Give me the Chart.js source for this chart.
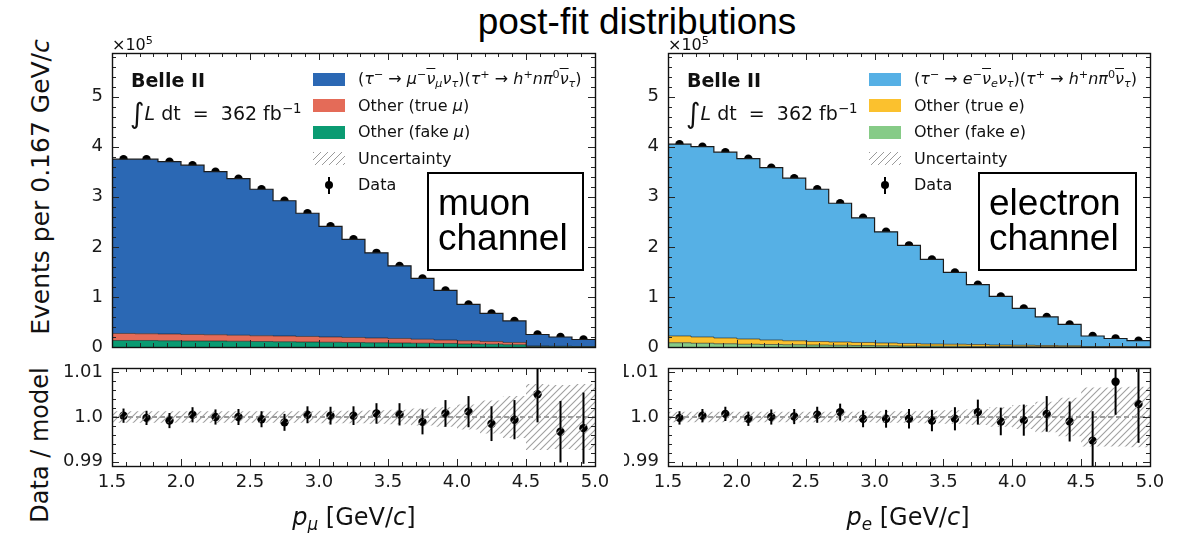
<!DOCTYPE html>
<html>
<head>
<meta charset="utf-8">
<script src="https://cdn.jsdelivr.net/npm/chart.js@4.4.0/dist/chart.umd.min.js"></script>
<style>
  html, body { margin: 0; padding: 0; background: #fff; }
  body { width: 1183px; height: 533px; position: relative; overflow: hidden;
         font-family: "DejaVu Sans", sans-serif; color: #111; }
  canvas { position: absolute; }
  .t { position: absolute; white-space: nowrap; line-height: 1; }
  .cc { transform: translate(-50%, -50%); }
  .cl { transform: translate(0, -50%); }
  .rot { transform: translate(-50%, -50%) rotate(-90deg); }
  sup { font-size: 0.7em; vertical-align: 0.5em; line-height: 0; }
  sub { font-size: 0.7em; vertical-align: -0.3em; line-height: 0; }
  .bar { text-decoration: overline; text-decoration-thickness: 1px; }
  .sw { position: absolute; width: 32px; height: 13px; }
  .hatch { background: repeating-linear-gradient(135deg, #9a9a9a 0 1.1px, transparent 1.1px 5px); }
  .box { position: absolute; box-sizing: border-box; border: 2px solid #000; background: #fff; }
  .box div { position: absolute; left: 9px; top: 11px; font-family: "Liberation Sans", Arial, sans-serif;
             font-size: 37px; line-height: 35px; color: #000; }
  .belle { font-weight: bold; font-size: 19px; }
  .lumi { font-size: 19px; }
  .lumi .int { font-size: 28px; vertical-align: -0.12em; line-height: 0; }
  .leg { font-size: 16px; }
  .axl { font-size: 24px; }
</style>
</head>
<body>

<div class="t cc" style="left:637px;top:21px;font-family:'Liberation Sans',Arial,sans-serif;font-size:37px;color:#000;">post-fit distributions</div>

<div class="t rot axl" style="left:40px;top:187px;font-size:25px;">Events per 0.167 GeV/<i>c</i></div>
<div class="t rot axl" style="left:40px;top:445px;">Data / model</div>

<canvas id="topL" width="612" height="330" style="left:0;top:30px;"></canvas>
<canvas id="ratL" width="612" height="173" style="left:0;top:360px;"></canvas>
<canvas id="topR" width="559" height="330" style="left:624px;top:30px;"></canvas>
<canvas id="ratR" width="559" height="173" style="left:624px;top:360px;"></canvas>

<!-- muon panel annotations -->
<div class="t cl" style="left:112px;top:45px;font-size:16px;">×10<sup>5</sup></div>
<div class="t cl belle" style="left:131px;top:80px;">Belle II</div>
<div class="t cl lumi" style="left:130px;top:113px;"><span class="int">∫</span><i>L</i> dt&nbsp; =&nbsp; 362 fb<sup>−1</sup></div>

<div class="sw" style="left:313px;top:73px;background:#2b68b4;"></div>
<div class="sw" style="left:313px;top:99px;background:#e46b58;"></div>
<div class="sw" style="left:313px;top:126px;background:#0a9b72;"></div>
<div class="sw hatch" style="left:313px;top:152px;"></div>
<div style="position:absolute;left:328px;top:177px;width:2px;height:17px;background:#000;"></div>
<div style="position:absolute;left:325px;top:181px;width:8px;height:8px;border-radius:50%;background:#000;"></div>
<div class="t cl leg" style="left:358px;top:79px;">(<i>τ</i><sup>−</sup> → <i>μ</i><sup>−</sup><i class="bar">ν</i><sub><i>μ</i></sub><i>ν</i><sub><i>τ</i></sub>)(<i>τ</i><sup>+</sup> → <i>h</i><sup>+</sup><i>nπ</i><sup>0</sup><i class="bar">ν</i><sub><i>τ</i></sub>)</div>
<div class="t cl leg" style="left:358px;top:106px;">Other (true <i>μ</i>)</div>
<div class="t cl leg" style="left:358px;top:132px;">Other (fake <i>μ</i>)</div>
<div class="t cl leg" style="left:358px;top:159px;">Uncertainty</div>
<div class="t cl leg" style="left:358px;top:185px;">Data</div>
<div class="box" style="left:427px;top:172px;width:157px;height:99px;"><div>muon<br>channel</div></div>

<!-- electron panel annotations -->
<div class="t cl" style="left:668px;top:45px;font-size:16px;">×10<sup>5</sup></div>
<div class="t cl belle" style="left:687px;top:80px;">Belle II</div>
<div class="t cl lumi" style="left:686px;top:113px;"><span class="int">∫</span><i>L</i> dt&nbsp; =&nbsp; 362 fb<sup>−1</sup></div>

<div class="sw" style="left:869px;top:73px;background:#56b0e5;"></div>
<div class="sw" style="left:869px;top:99px;background:#fbc12e;"></div>
<div class="sw" style="left:869px;top:126px;background:#86cb87;"></div>
<div class="sw hatch" style="left:869px;top:152px;"></div>
<div style="position:absolute;left:884px;top:177px;width:2px;height:17px;background:#000;"></div>
<div style="position:absolute;left:881px;top:181px;width:8px;height:8px;border-radius:50%;background:#000;"></div>
<div class="t cl leg" style="left:914px;top:79px;">(<i>τ</i><sup>−</sup> → <i>e</i><sup>−</sup><i class="bar">ν</i><sub><i>e</i></sub><i>ν</i><sub><i>τ</i></sub>)(<i>τ</i><sup>+</sup> → <i>h</i><sup>+</sup><i>nπ</i><sup>0</sup><i class="bar">ν</i><sub><i>τ</i></sub>)</div>
<div class="t cl leg" style="left:914px;top:106px;">Other (true <i>e</i>)</div>
<div class="t cl leg" style="left:914px;top:132px;">Other (fake <i>e</i>)</div>
<div class="t cl leg" style="left:914px;top:159px;">Uncertainty</div>
<div class="t cl leg" style="left:914px;top:185px;">Data</div>
<div class="box" style="left:978px;top:172px;width:159px;height:99px;"><div>electron<br>channel</div></div>

<div class="t cc axl" style="left:354px;top:517px;"><i>p</i><sub><i>μ</i></sub> [GeV/<i>c</i>]</div>
<div class="t cc axl" style="left:908px;top:517px;"><i>p</i><sub><i>e</i></sub> [GeV/<i>c</i>]</div>

<script>
// Bin edges of the lepton momentum histograms [GeV/c], width 0.167
const binEdges = [1.5, 1.667, 1.833, 2.0, 2.167, 2.333, 2.5, 2.667, 2.833, 3.0, 3.167,
                  3.333, 3.5, 3.667, 3.833, 4.0, 4.167, 4.333, 4.5, 4.667, 4.833, 5.0];

// Muon channel, events per bin in units of 1e5
const muData   = [3.75, 3.75, 3.70, 3.63, 3.50, 3.36, 3.15, 2.92, 2.67, 2.41, 2.15,
                  1.88, 1.62, 1.37, 1.13, 0.85, 0.67, 0.52, 0.25, 0.20, 0.15];
const muSignal = [3.48, 3.485, 3.44, 3.38, 3.255, 3.125, 2.925, 2.70, 2.46, 2.21, 1.96,
                  1.70, 1.45, 1.215, 0.99, 0.725, 0.56, 0.43, 0.23, 0.185, 0.14];
const muTrue   = [0.14, 0.135, 0.135, 0.13, 0.125, 0.12, 0.115, 0.115, 0.11, 0.105, 0.10,
                  0.095, 0.09, 0.08, 0.07, 0.065, 0.055, 0.045, 0.01, 0.007, 0.005];
const muFake   = [0.13, 0.13, 0.125, 0.12, 0.12, 0.115, 0.11, 0.105, 0.10, 0.095, 0.09,
                  0.085, 0.08, 0.075, 0.07, 0.06, 0.055, 0.045, 0.01, 0.008, 0.005];
// Muon channel data/model ratio, its statistical error and the model uncertainty
const muRatio  = [1.0003, 0.9998, 0.9992, 1.0005, 1.0000, 1.0000, 0.9995, 0.9988, 1.0005, 1.0003, 1.0003,
                  1.0008, 1.0006, 0.9989, 1.0008, 1.0012, 0.9985, 0.9994, 1.0051, 0.9967, 0.9975];
const muErr    = [0.0016, 0.0016, 0.0017, 0.0017, 0.0017, 0.0018, 0.0018, 0.0019, 0.0019, 0.0020, 0.0021,
                  0.0023, 0.0025, 0.0028, 0.0030, 0.0035, 0.0039, 0.0044, 0.0063, 0.0069, 0.0080];
const muUnc    = [0.0013, 0.0013, 0.0013, 0.0013, 0.0013, 0.0013, 0.0013, 0.0013, 0.0013, 0.0014, 0.0014,
                  0.0015, 0.0016, 0.0019, 0.0022, 0.0028, 0.0037, 0.0047, 0.0074, 0.0072, 0.0074];

// Electron channel, events per bin in units of 1e5
const eData    = [4.05, 4.00, 3.89, 3.76, 3.58, 3.37, 3.15, 2.87, 2.58, 2.30, 2.03,
                  1.75, 1.49, 1.245, 1.01, 0.77, 0.60, 0.45, 0.22, 0.17, 0.126];
const eSignal  = [3.83, 3.80, 3.71, 3.60, 3.44, 3.245, 3.04, 2.77, 2.49, 2.22, 1.96,
                  1.69, 1.435, 1.195, 0.97, 0.735, 0.57, 0.425, 0.21, 0.162, 0.12];
const eTrue    = [0.135, 0.125, 0.115, 0.105, 0.09, 0.08, 0.07, 0.065, 0.06, 0.055, 0.05,
                  0.042, 0.04, 0.038, 0.03, 0.027, 0.024, 0.02, 0.007, 0.006, 0.004];
const eFake    = [0.085, 0.075, 0.065, 0.055, 0.05, 0.045, 0.04, 0.035, 0.03, 0.025, 0.02,
                  0.018, 0.015, 0.012, 0.01, 0.008, 0.006, 0.005, 0.003, 0.002, 0.002];
const eRatio   = [0.9998, 1.0003, 1.0007, 0.9996, 1.0000, 1.0001, 1.0005, 1.0011, 0.9996, 0.9996, 0.9996,
                  0.9992, 0.9996, 1.0011, 0.9990, 0.9993, 1.0007, 0.9990, 0.9947, 1.0079, 1.0029];
const eErr     = [0.0015, 0.0015, 0.0016, 0.0016, 0.0017, 0.0017, 0.0018, 0.0019, 0.0019, 0.0020, 0.0022,
                  0.0024, 0.0026, 0.0028, 0.0031, 0.0035, 0.0040, 0.0045, 0.0066, 0.0074, 0.0087];
const eUnc     = [0.0012, 0.0012, 0.0012, 0.0012, 0.0012, 0.0012, 0.0012, 0.0012, 0.0012, 0.0013, 0.0013,
                  0.0014, 0.0015, 0.0018, 0.0022, 0.0027, 0.0034, 0.0043, 0.0066, 0.0066, 0.0068];

// Axis ticks and their labels
const xTickValues   = [1.5, 2.0, 2.5, 3.0, 3.5, 4.0, 4.5, 5.0];
const xTickLabels   = ['1.5', '2.0', '2.5', '3.0', '3.5', '4.0', '4.5', '5.0'];
const yTickValues   = [0, 1, 2, 3, 4, 5];
const yTickLabels   = ['0', '1', '2', '3', '4', '5'];
const rTickValues   = [0.99, 1.0, 1.01];
const rTickLabels   = ['0.99', '1.0', '1.01'];

const TICK_FONT = { family: 'DejaVu Sans', size: 18 };

// ---- helpers ----
const nBins = binEdges.length - 1;
const binCenters = binEdges.slice(0, -1).map((e, i) => (e + binEdges[i + 1]) / 2);

// step outline: a point at each lower bin edge plus one closing point at the upper edge
function steps(vals) {
  const pts = vals.map((v, i) => ({ x: binEdges[i], y: v }));
  pts.push({ x: binEdges[nBins], y: vals[nBins - 1] });
  return pts;
}
function stackSum(...arrs) {
  return arrs[0].map((_, i) => arrs.reduce((s, a) => s + a[i], 0));
}
function hatch(canvas) {
  const s = 7, c = document.createElement('canvas');
  c.width = s; c.height = s;
  const g = c.getContext('2d');
  g.strokeStyle = '#a0a0a0'; g.lineWidth = 1.1;
  g.beginPath();
  g.moveTo(0, s); g.lineTo(s, 0);
  g.moveTo(-s, s); g.lineTo(s, -s);
  g.moveTo(0, 2 * s); g.lineTo(2 * s, 0);
  g.stroke();
  return canvas.getContext('2d').createPattern(c, 'repeat');
}

// frame with inward major and minor ticks on all four sides
const frameTicks = {
  id: 'frameTicks',
  afterDatasetsDraw(chart, args, o) {
    const { ctx, chartArea: a, scales: { x, y } } = chart;
    ctx.save();
    ctx.strokeStyle = '#262626';
    ctx.lineWidth = 1;
    const vt = (v, len) => {
      const p = Math.round(x.getPixelForValue(v)) + 0.5;
      ctx.moveTo(p, a.bottom); ctx.lineTo(p, a.bottom - len);
      ctx.moveTo(p, a.top); ctx.lineTo(p, a.top + len);
    };
    const ht = (v, len) => {
      const p = Math.round(y.getPixelForValue(v)) + 0.5;
      ctx.moveTo(a.left, p); ctx.lineTo(a.left + len, p);
      ctx.moveTo(a.right, p); ctx.lineTo(a.right - len, p);
    };
    ctx.beginPath();
    for (let k = 0; k <= 35; k++) vt(1.5 + k * 0.1, k % 5 === 0 ? 7 : 4);
    const n = Math.round((o.yMax - o.yMin) / o.yMinor);
    for (let k = 0; k <= n; k++) {
      const v = o.yMin + k * o.yMinor;
      const major = o.yMajor.some(m => Math.abs(m - v) < o.yMinor / 10);
      ht(v, major ? 7 : 4);
    }
    ctx.stroke();
    ctx.lineWidth = 1.4;
    ctx.strokeStyle = '#111';
    ctx.strokeRect(Math.round(a.left) + 0.5, Math.round(a.top) + 0.5,
                   Math.round(a.right) - Math.round(a.left), Math.round(a.bottom) - Math.round(a.top));
    ctx.restore();
  }
};

// vertical error bars on the ratio points
const errorBars = {
  id: 'errorBars',
  afterDatasetsDraw(chart) {
    const { ctx, chartArea: a, scales: { x, y } } = chart;
    chart.data.datasets.forEach(ds => {
      if (!ds.errors) return;
      ctx.save();
      ctx.beginPath(); ctx.rect(a.left, a.top, a.width, a.height); ctx.clip();
      ctx.strokeStyle = '#000'; ctx.lineWidth = 2;
      ds.data.forEach((p, i) => {
        const px = x.getPixelForValue(p.x);
        ctx.beginPath();
        ctx.moveTo(px, y.getPixelForValue(p.y - ds.errors[i]));
        ctx.lineTo(px, y.getPixelForValue(p.y + ds.errors[i]));
        ctx.stroke();
      });
      ctx.restore();
    });
  }
};

function yAxis(width, min, max, vals, labels) {
  return {
    type: 'linear', min, max,
    grid: { display: false, drawTicks: false }, border: { display: false },
    ticks: { font: TICK_FONT, color: '#1a1a1a', padding: 9, includeBounds: false,
             callback: (v, i) => labels[i] },
    afterBuildTicks: s => { s.ticks = vals.map(v => ({ value: v })); },
    afterFit: s => { s.width = width; s.paddingTop = 0; s.paddingBottom = 0; }
  };
}

function baseOptions(padding, yScale, xScale, frame) {
  return {
    responsive: false, animation: false, events: [],
    layout: { padding },
    plugins: { legend: { display: false }, tooltip: { enabled: false }, frameTicks: frame },
    scales: { x: xScale, y: yScale }
  };
}

// stacked step histograms of the three model components with the data points on top
function topPanel(id, yWidth, padRight, sig, tru, fake, data, cols) {
  const lvl1 = fake, lvl2 = stackSum(fake, tru), lvl3 = stackSum(fake, tru, sig);
  const step = { stepped: 'before', pointRadius: 0, borderWidth: 1 };
  new Chart(document.getElementById(id), {
    type: 'line',
    data: { datasets: [
      { ...step, data: steps(lvl1), fill: 'origin', backgroundColor: cols[2], borderColor: 'rgba(20,20,20,0.55)' },
      { ...step, data: steps(lvl2), fill: '-1', backgroundColor: cols[1], borderColor: 'rgba(20,20,20,0.55)' },
      { ...step, data: steps(lvl3), fill: '-1', backgroundColor: cols[0], borderColor: '#1b1b1b', borderWidth: 1.2 },
      { data: data.map((v, i) => ({ x: binCenters[i], y: v })), showLine: false,
        pointRadius: 4.2, pointBackgroundColor: '#000', pointBorderWidth: 0 }
    ] },
    options: baseOptions({ left: 0, right: padRight, top: 23, bottom: 13 },
      yAxis(yWidth, 0, 5.87, yTickValues, yTickLabels),
      { type: 'linear', min: 1.5, max: 5.0, display: false },
      { yMin: 0, yMax: 5.8, yMinor: 0.2, yMajor: yTickValues }),
    plugins: [frameTicks]
  });
}

// data/model ratio with hatched model uncertainty band
function ratioChart(id, yWidth, padRight, ratio, err, unc) {
  const canvas = document.getElementById(id);
  const step = { stepped: 'before', pointRadius: 0, borderWidth: 0 };
  new Chart(canvas, {
    type: 'line',
    data: { datasets: [
      { ...step, data: steps(unc.map(u => 1 - u)), fill: false },
      { ...step, data: steps(unc.map(u => 1 + u)), fill: '-1', backgroundColor: hatch(canvas) },
      { data: [{ x: 1.5, y: 1 }, { x: 5.0, y: 1 }], pointRadius: 0, borderWidth: 1,
        borderColor: '#3a3a3a', borderDash: [5, 3], fill: false },
      { data: ratio.map((v, i) => ({ x: binCenters[i], y: v })), errors: err, showLine: false,
        pointRadius: 4.2, pointBackgroundColor: '#000', pointBorderWidth: 0 }
    ] },
    options: baseOptions({ left: 0, right: padRight, top: 8, bottom: 37 },
      yAxis(yWidth, 0.989, 1.011, rTickValues, rTickLabels),
      { type: 'linear', min: 1.5, max: 5.0,
        grid: { display: false, drawTicks: false }, border: { display: false },
        ticks: { font: TICK_FONT, color: '#1a1a1a', padding: 6, maxRotation: 0,
                 callback: (v, i) => xTickLabels[i] },
        afterBuildTicks: s => { s.ticks = xTickValues.map(v => ({ value: v })); },
        afterFit: s => { s.height = 30; s.paddingLeft = 0; s.paddingRight = 0; } },
      { yMin: 0.99, yMax: 1.01, yMinor: 0.002, yMajor: rTickValues }),
    plugins: [errorBars, frameTicks]
  });
}

topPanel('topL', 112, 17, muSignal, muTrue, muFake, muData, ['#2b68b4', '#e46b58', '#0a9b72']);
topPanel('topR', 44, 33, eSignal, eTrue, eFake, eData, ['#56b0e5', '#fbc12e', '#86cb87']);
ratioChart('ratL', 112, 17, muRatio, muErr, muUnc);
ratioChart('ratR', 44, 33, eRatio, eErr, eUnc);
</script>
</body>
</html>
